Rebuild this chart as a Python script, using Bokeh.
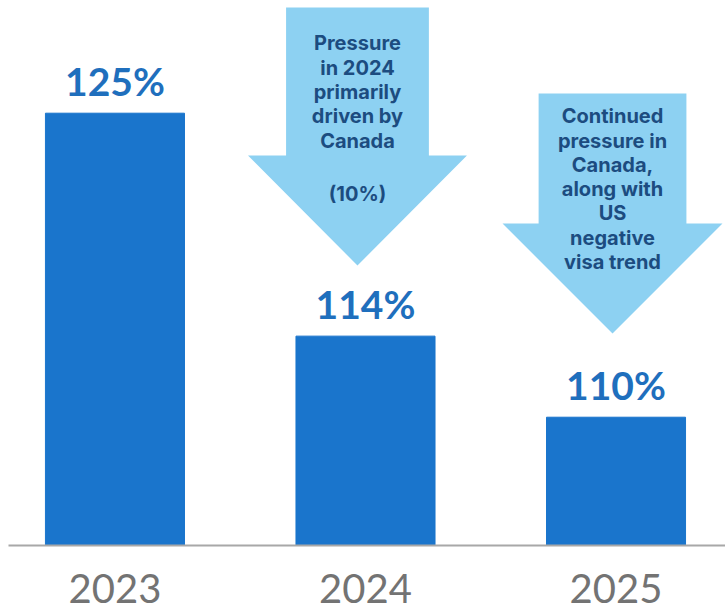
from bokeh.plotting import figure
from bokeh.models import Range1d, FixedTicker, ColumnDataSource
from bokeh.core.properties import value
from bokeh.embed import file_html
from bokeh.resources import INLINE

# ---- data ----
years = ["2023", "2024", "2025"]
x_pos = [0, 1, 2]
pct = [125, 114, 110]
pct_labels = ["125%", "114%", "110%"]

note_2024 = ["Pressure", "in 2024", "primarily", "driven by", "Canada", "(10%)"]
note_2025 = ["Continued", "pressure in", "Canada,", "along with", "US", "negative", "visa trend"]

BAR = "#1a75cc"
LABEL = "#1f6fbd"
ARROW = "#8dd1f2"
NOTE = "#1c4c80"

Y0, Y1 = 103.67, 130.56
FRAME_H = 545.0
PX = (Y1 - Y0) / FRAME_H  # value units per pixel

def vy(px):
    return Y1 - px * PX

p = figure(width=725, height=612, output_backend="svg", toolbar_location=None,
           x_range=Range1d(-0.425, 2.437), y_range=Range1d(Y0, Y1),
           min_border_left=8, min_border_right=0, min_border_top=0,
           min_border_bottom=67)
p.outline_line_color = None
p.xgrid.visible = False
p.ygrid.visible = False
p.yaxis.visible = False
p.background_fill_color = "white"
p.border_fill_color = "white"

ax = p.xaxis[0]
ax.ticker = FixedTicker(ticks=x_pos)
ax.major_label_overrides = {x: y for x, y in zip(x_pos, years)}
ax.major_tick_line_color = None
ax.minor_tick_line_color = None
ax.major_tick_out = 0
ax.major_tick_in = 0
ax.axis_line_color = "#a8a8a8"
ax.axis_line_width = 2
ax.major_label_standoff = 28
ax.major_label_text_font = "Lato"
ax.major_label_text_font_size = "40px"
ax.major_label_text_color = "#737373"

label_y = [v + 32 * PX for v in pct]
src = ColumnDataSource(dict(x=x_pos, top=pct, lab=pct_labels, ly=label_y))
p.vbar(x="x", top="top", bottom=Y0, width=0.555, color=BAR, source=src)
p.text(x="x", y="ly", text="lab", source=src, text_align="center",
       text_baseline="alphabetic", text_font=value("Lato"),
       text_font_style="bold", text_font_size="39px", text_color=LABEL)

def arrow(cx, top_px, head_px, tip_px, shaft_hw, head_hw):
    xs = [cx - shaft_hw, cx + shaft_hw, cx + shaft_hw, cx + head_hw, cx, cx - head_hw, cx - shaft_hw]
    ys = [vy(top_px), vy(top_px), vy(head_px), vy(head_px), vy(tip_px), vy(head_px), vy(head_px)]
    return xs, ys

a1 = arrow(0.968, 7, 155, 265, 0.285, 0.437)
a2 = arrow(1.986, 93, 223, 333, 0.295, 0.439)
p.patches(xs=[a1[0], a2[0]], ys=[a1[1], a2[1]], fill_color=ARROW, line_color=None)

# note texts
n1_px = [42, 67, 91, 115, 140, 193]
n2_px = [115, 140, 164, 188, 212, 237, 261]
p.text(x=[0.968] * len(note_2024), y=[vy(v) for v in n1_px], text=note_2024,
       text_align="center", text_baseline="middle", text_font=value("Inter"),
       text_font_style="bold", text_font_size="20px", text_color=NOTE)
p.text(x=[1.986] * len(note_2025), y=[vy(v) for v in n2_px], text=note_2025,
       text_align="center", text_baseline="middle", text_font=value("Inter"),
       text_font_style="bold", text_font_size="20px", text_color=NOTE)

open("out.html", "w").write(file_html(p, INLINE))
